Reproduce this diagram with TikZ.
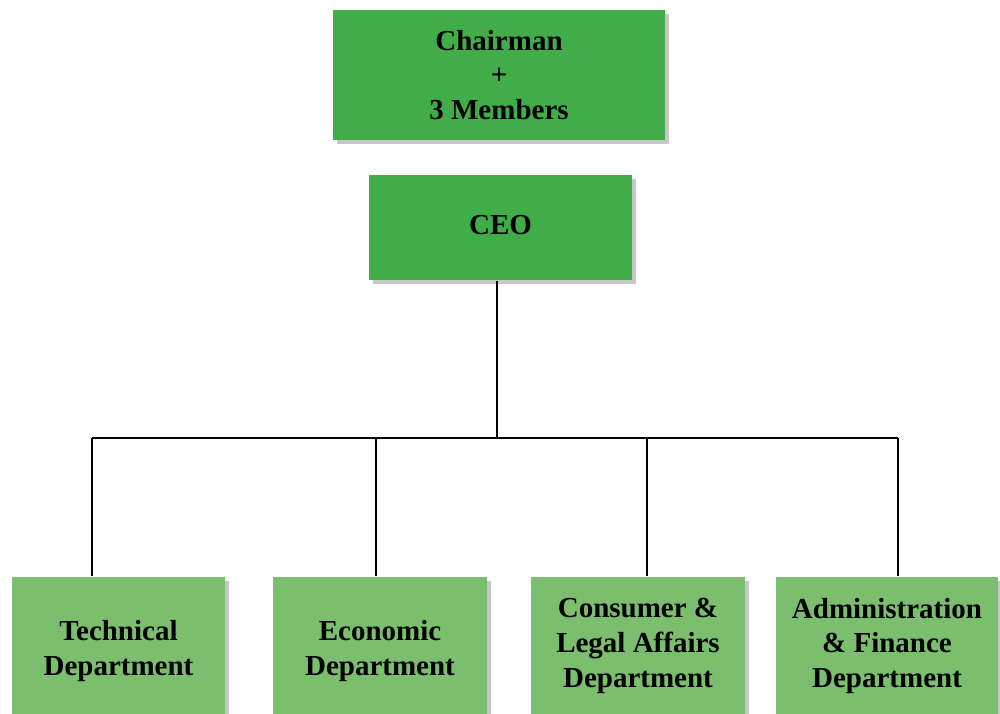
\documentclass[tikz,border=0pt]{standalone}
\usepackage{fontspec}
\setmainfont{Liberation Serif}
\usetikzlibrary{shadows}
\definecolor{boardgreen}{HTML}{41AD49}
\definecolor{deptgreen}{HTML}{7BBE6E}
\tikzset{
  orgbox/.style={rectangle, inner sep=0pt, align=center,
    font=\fontsize{8.25}{9.9}\selectfont\bfseries,
    drop shadow={shadow xshift=0.035cm, shadow yshift=-0.035cm, opacity=0.22, fill=black}},
  board/.style={orgbox, fill=boardgreen},
  dept/.style={orgbox, fill=deptgreen, minimum height=1.48cm},
  wire/.style={line width=0.6pt, black}
}
\begin{document}
\begin{tikzpicture}
\useasboundingbox (0,0) rectangle (10,-7.13);
\node[board, minimum width=3.32cm, minimum height=1.30cm] (board) at (4.99, -0.75) {Chairman\\+\\3 Members};
\node[board, minimum width=2.63cm, minimum height=1.05cm] (ceo) at (5.005, -2.275) {\raisebox{0.06cm}{CEO}};
\node[dept, minimum width=2.13cm] (tech) at (1.185, -6.51) {Technical\\Department};
\node[dept, minimum width=2.14cm] (econ) at (3.80, -6.51) {Economic\\Department};
\node[dept, minimum width=2.14cm, minimum height=1.38cm] (legal) at (6.38, -6.46) {Consumer \&\\Legal Affairs\\Department};
\node[dept, minimum width=2.22cm, minimum height=1.38cm] (admin) at (8.87, -6.46) {Administration\\\& Finance\\Department};
\coordinate (hub) at (4.97, -4.38);
\coordinate (b1) at (0.92, -4.38);
\coordinate (b2) at (3.76, -4.38);
\coordinate (b3) at (6.47, -4.38);
\coordinate (b4) at (8.98, -4.38);
\draw[wire] (hub |- ceo.south) -- (hub);
\draw[wire] (b1) -- (b4);
\draw[wire] (b1) -- (b1 |- tech.north);
\draw[wire] (b2) -- (b2 |- econ.north);
\draw[wire] (b3) -- (b3 |- legal.north);
\draw[wire] (b4) -- (b4 |- admin.north);
\end{tikzpicture}
\end{document}
